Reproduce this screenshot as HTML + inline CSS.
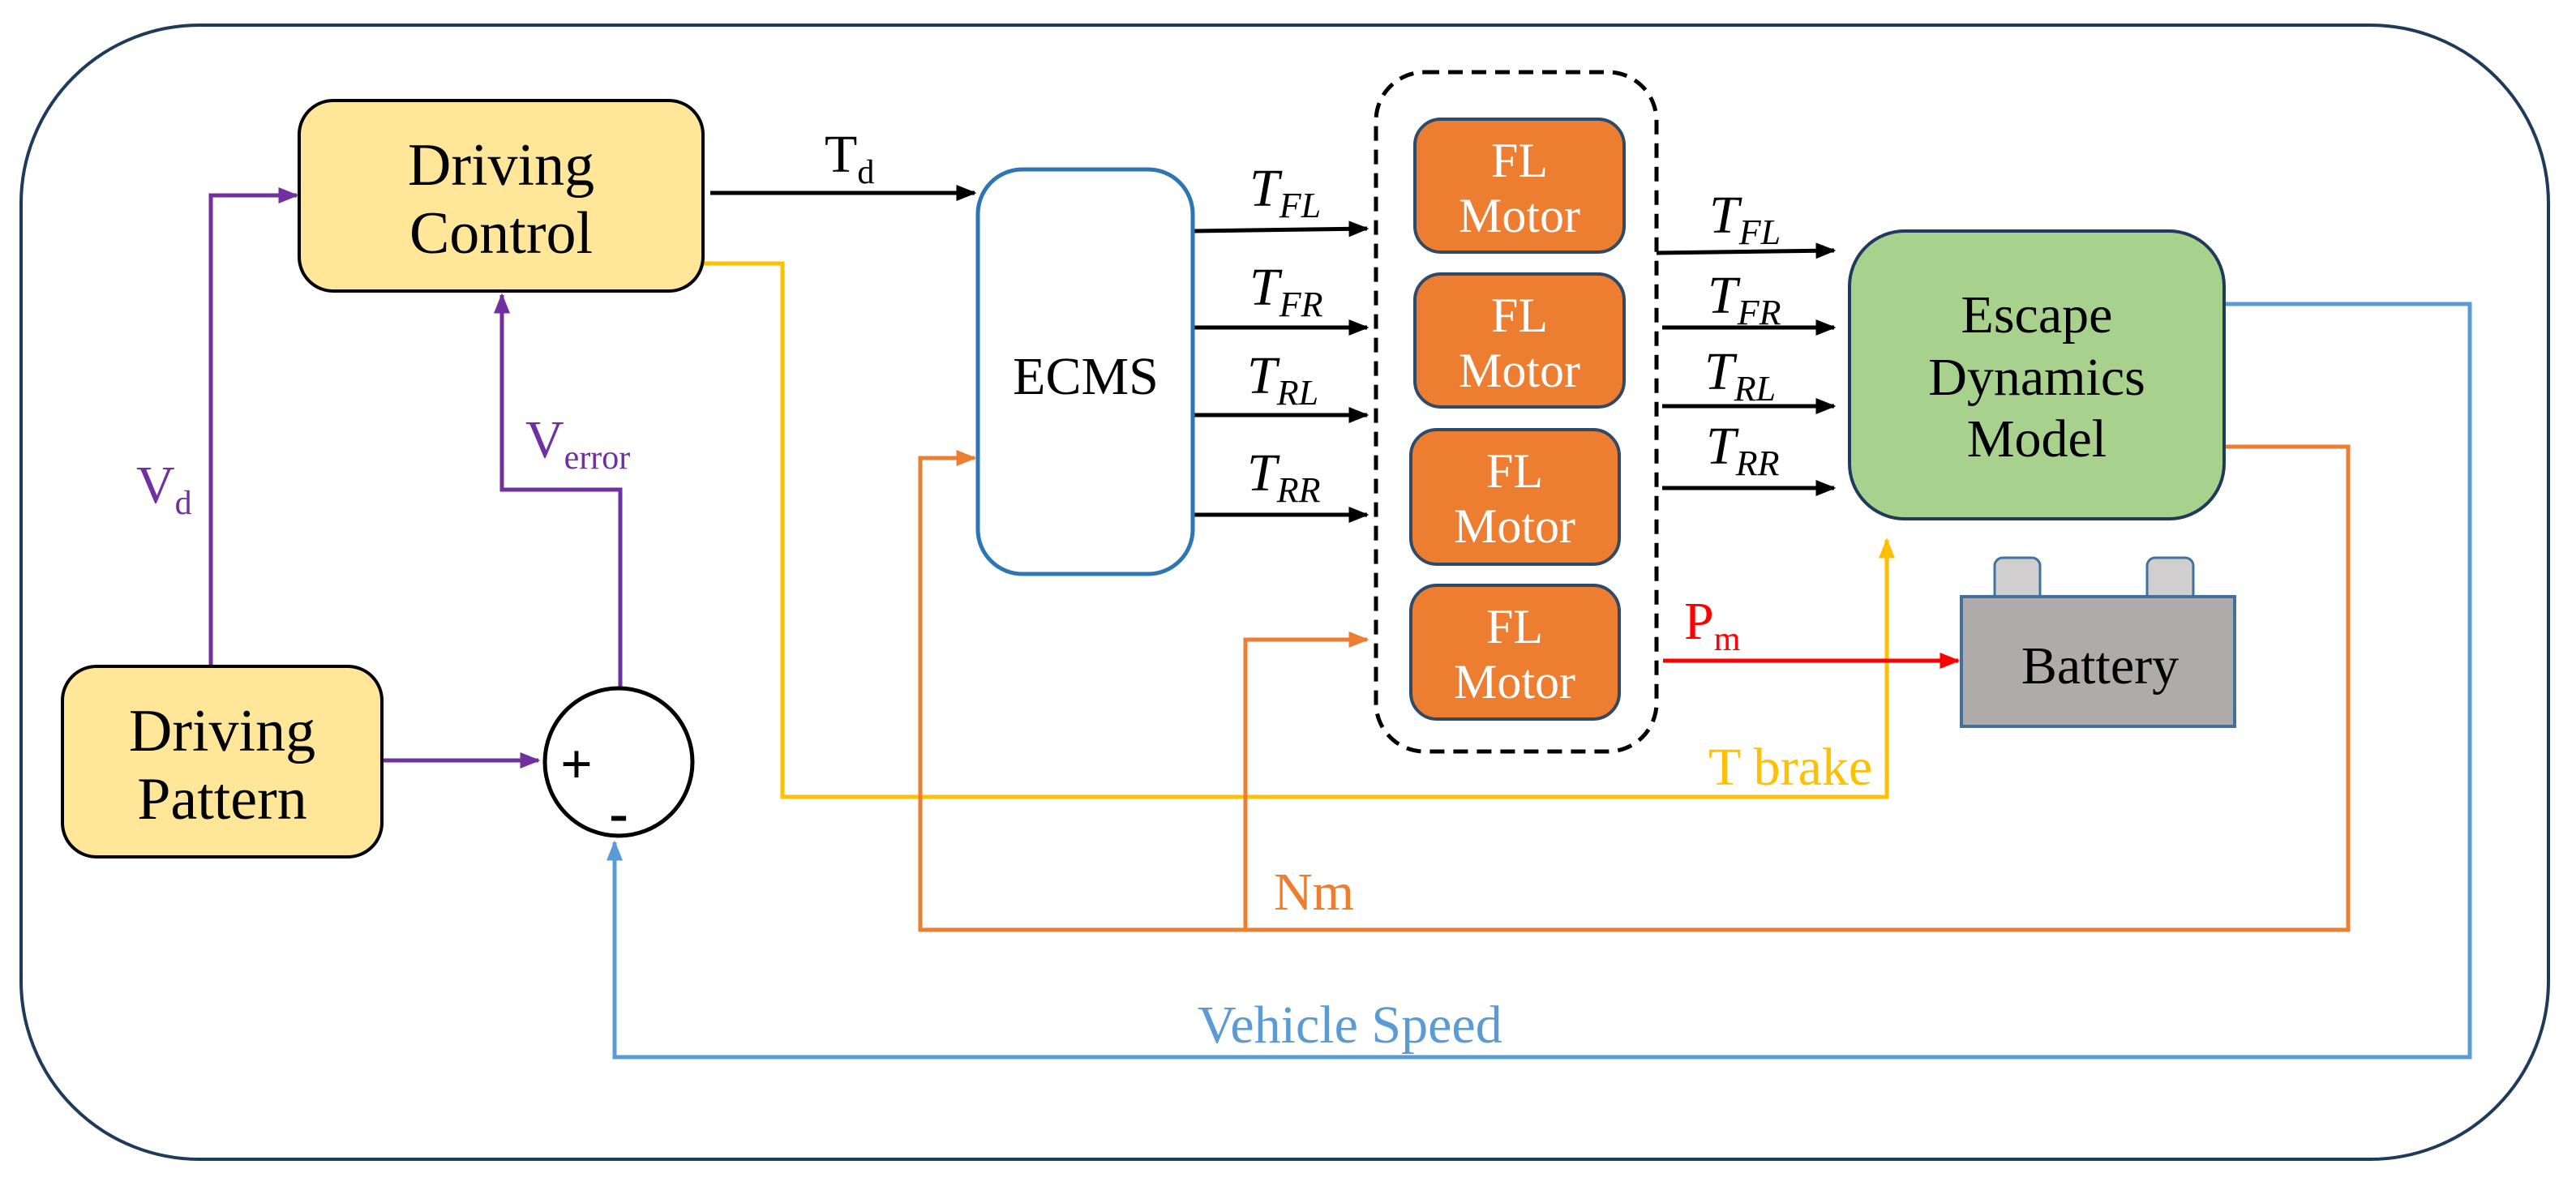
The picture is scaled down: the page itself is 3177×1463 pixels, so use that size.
<!DOCTYPE html>
<html><head><meta charset="utf-8"><style>
html,body{margin:0;padding:0;background:#fff;}
svg{display:block;}
text{font-family:"Liberation Serif",serif;}
</style></head><body>
<svg width="3177" height="1463" viewBox="0 0 3177 1463" xmlns="http://www.w3.org/2000/svg">
<defs>
<marker id="ak" markerWidth="5" markerHeight="4" refX="4.5" refY="2" orient="auto" markerUnits="strokeWidth"><path d="M0,0 L5,2 L0,4 z" fill="#000"/></marker>
<marker id="ap" markerWidth="5" markerHeight="4" refX="4.5" refY="2" orient="auto" markerUnits="strokeWidth"><path d="M0,0 L5,2 L0,4 z" fill="#7030a0"/></marker>
<marker id="ay" markerWidth="5" markerHeight="4" refX="4.5" refY="2" orient="auto" markerUnits="strokeWidth"><path d="M0,0 L5,2 L0,4 z" fill="#ffc000"/></marker>
<marker id="ao" markerWidth="5" markerHeight="4" refX="4.5" refY="2" orient="auto" markerUnits="strokeWidth"><path d="M0,0 L5,2 L0,4 z" fill="#ed7d31"/></marker>
<marker id="ab" markerWidth="5" markerHeight="4" refX="4.5" refY="2" orient="auto" markerUnits="strokeWidth"><path d="M0,0 L5,2 L0,4 z" fill="#5b9bd5"/></marker>
<marker id="ar" markerWidth="5" markerHeight="4" refX="4.5" refY="2" orient="auto" markerUnits="strokeWidth"><path d="M0,0 L5,2 L0,4 z" fill="#ff0000"/></marker>
</defs>
<rect x="26" y="31" width="3117" height="1399" rx="220" ry="220" fill="#fff" stroke="#1f3a5a" stroke-width="4"/>

<g fill="none" stroke-width="5">
<polyline points="260,822 260,241 366,241" stroke="#7030a0" marker-end="url(#ap)"/>
<polyline points="471,938 664,938" stroke="#7030a0" marker-end="url(#ap)"/>
<polyline points="765,848 765,604 619,604 619,364" stroke="#7030a0" marker-end="url(#ap)"/>
<polyline points="876,238 1202,238" stroke="#000" marker-end="url(#ak)"/>
<polyline points="867,325 965,325 965,983 2327,983 2327,666" stroke="#ffc000" marker-end="url(#ay)"/>
<polyline points="2743,551 2896,551 2896,1147 1135,1147 1135,565 1202,565" stroke="#ed7d31" marker-end="url(#ao)"/>
<polyline points="1536,1147 1536,789 1686,789" stroke="#ed7d31" marker-end="url(#ao)"/>
<polyline points="2743,375 3046,375 3046,1304 758,1304 758,1039" stroke="#5b9bd5" marker-end="url(#ab)"/>
<line x1="1471" y1="285" x2="1686" y2="282" stroke="#000" marker-end="url(#ak)"/>
<line x1="1471" y1="404" x2="1686" y2="404" stroke="#000" marker-end="url(#ak)"/>
<line x1="1471" y1="512" x2="1686" y2="512" stroke="#000" marker-end="url(#ak)"/>
<line x1="1471" y1="635" x2="1686" y2="635" stroke="#000" marker-end="url(#ak)"/>
<line x1="2043" y1="312" x2="2262" y2="309" stroke="#000" marker-end="url(#ak)"/>
<line x1="2050" y1="404" x2="2262" y2="404" stroke="#000" marker-end="url(#ak)"/>
<line x1="2050" y1="501" x2="2262" y2="501" stroke="#000" marker-end="url(#ak)"/>
<line x1="2050" y1="602" x2="2262" y2="602" stroke="#000" marker-end="url(#ak)"/>
<line x1="2051" y1="815" x2="2415" y2="815" stroke="#ff0000" marker-end="url(#ar)"/>
</g>

<rect x="1697" y="89" width="346" height="838" rx="60" fill="none" stroke="#000" stroke-width="5" stroke-dasharray="18,11"/>

<rect x="369" y="124" width="498" height="235" rx="42" fill="#ffe699" stroke="#000" stroke-width="4"/>
<text x="618" y="228" font-size="74" text-anchor="middle">Driving</text>
<text x="618" y="312" font-size="74" text-anchor="middle">Control</text>

<rect x="77" y="822" width="394" height="235" rx="42" fill="#ffe699" stroke="#000" stroke-width="4"/>
<text x="274" y="926" font-size="74" text-anchor="middle">Driving</text>
<text x="274" y="1010" font-size="74" text-anchor="middle">Pattern</text>

<circle cx="763" cy="940" r="91" fill="#fff" stroke="#000" stroke-width="5"/>
<text x="711" y="966" font-size="70" text-anchor="middle" font-family="Liberation Sans" font-weight="bold">+</text>
<text x="763" y="1026" font-size="70" text-anchor="middle" font-family="Liberation Sans" font-weight="bold">-</text>

<rect x="1206" y="209" width="265" height="499" rx="55" fill="#fff" stroke="#2e75b6" stroke-width="5"/>
<text x="1339" y="486" font-size="66" text-anchor="middle">ECMS</text>

<g fill="#ed7d31" stroke="#2f4a66" stroke-width="4">
<rect x="1745" y="147" width="258" height="164" rx="32"/>
<rect x="1745" y="338" width="258" height="164" rx="32"/>
<rect x="1740" y="530" width="257" height="166" rx="32"/>
<rect x="1740" y="722" width="257" height="165" rx="32"/>
</g>
<g fill="#fff" font-size="60" text-anchor="middle">
<text x="1874" y="218">FL</text><text x="1874" y="286">Motor</text>
<text x="1874" y="409">FL</text><text x="1874" y="477">Motor</text>
<text x="1868" y="601">FL</text><text x="1868" y="669">Motor</text>
<text x="1868" y="793">FL</text><text x="1868" y="861">Motor</text>
</g>

<rect x="2281" y="285" width="462" height="355" rx="68" fill="#a9d18e" stroke="#1f3a5a" stroke-width="4"/>
<g font-size="66" text-anchor="middle">
<text x="2512" y="410">Escape</text>
<text x="2512" y="487">Dynamics</text>
<text x="2512" y="563">Model</text>
</g>

<rect x="2460" y="688" width="56" height="56" rx="10" fill="#d0cece" stroke="#41719c" stroke-width="3"/>
<rect x="2648" y="688" width="57" height="56" rx="10" fill="#d0cece" stroke="#41719c" stroke-width="3"/>
<rect x="2419" y="736" width="337" height="160" fill="#afabab" stroke="#41719c" stroke-width="4"/>
<text x="2590" y="843" font-size="66" text-anchor="middle">Battery</text>

<g font-size="66">
<text x="168" y="620" fill="#7030a0">V<tspan font-size="42" dy="14">d</tspan></text>
<text x="648" y="564" fill="#7030a0">V<tspan font-size="42" dy="14">error</tspan></text>
<text x="1017" y="212">T<tspan font-size="42" dy="14">d</tspan></text>
<text x="2077" y="788" fill="#ff0000">P<tspan font-size="42" dy="14">m</tspan></text>
<text x="2107" y="968" fill="#ffc000">T brake</text>
<text x="1571" y="1122" fill="#ed7d31">Nm</text>
<text x="1477" y="1286" fill="#5b9bd5">Vehicle Speed</text>
</g>
<g font-size="66" font-style="italic">
<text x="1541" y="254">T<tspan font-size="44" dy="14">FL</tspan></text>
<text x="1541" y="376">T<tspan font-size="44" dy="14">FR</tspan></text>
<text x="1538" y="485">T<tspan font-size="44" dy="14">RL</tspan></text>
<text x="1538" y="605">T<tspan font-size="44" dy="14">RR</tspan></text>
<text x="2108" y="287">T<tspan font-size="44" dy="14">FL</tspan></text>
<text x="2106" y="386">T<tspan font-size="44" dy="14">FR</tspan></text>
<text x="2102" y="480">T<tspan font-size="44" dy="14">RL</tspan></text>
<text x="2104" y="572">T<tspan font-size="44" dy="14">RR</tspan></text>
</g>
</svg>
</body></html>
